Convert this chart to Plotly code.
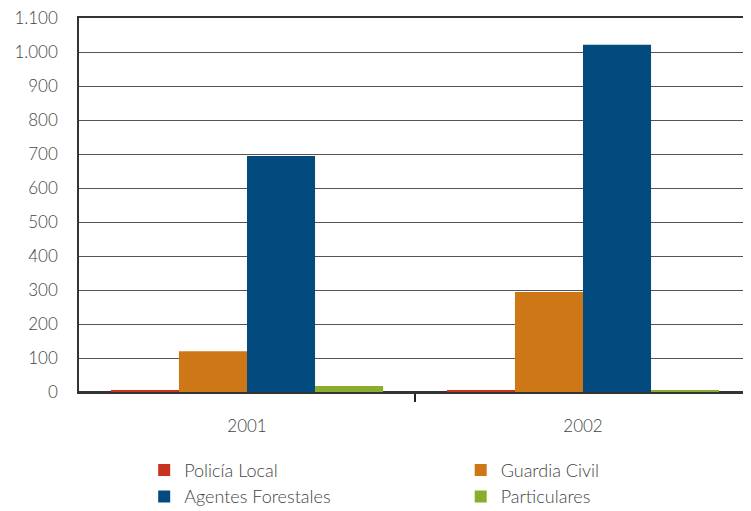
import plotly.graph_objects as go

years = ["2001", "2002"]
series_names = ["Policía Local", "Guardia Civil", "Agentes Forestales", "Particulares"]
policia = [6, 6]
guardia = [120, 294]
agentes = [694, 1021]
particulares = [18, 6]
colors = ["#C8321E", "#CD7716", "#034A7E", "#8AAD2E"]
legend_ids = ["legend", "legend2", "legend", "legend2"]

font_family = "Lato, 'Open Sans', sans-serif"
fig = go.Figure()
for name, vals, c, lg in zip(series_names, [policia, guardia, agentes, particulares], colors, legend_ids):
    fig.add_trace(go.Bar(x=years, y=vals, name=name, legend=lg,
                         marker=dict(color=c, line=dict(width=0))))

leg_common = dict(orientation="v", yanchor="top", y=-0.16, xanchor="left",
                  font=dict(size=18, color="#444", weight=300), traceorder="normal",
                  bgcolor="rgba(0,0,0,0)")
fig.update_layout(
    width=743, height=503,
    margin=dict(l=71, r=0, t=10, b=119, autoexpand=False),
    barmode="group", bargap=0.19, bargroupgap=0,
    plot_bgcolor="white", paper_bgcolor="white",
    separators=",.",
    font=dict(family=font_family, size=17, color="#444", weight=300),
    showlegend=True,
    legend=dict(x=0.097, **leg_common),
    legend2=dict(x=0.568, **leg_common),
)
fig.update_yaxes(range=[0, 1100], tickvals=list(range(0, 1101, 100)), tickformat=",d", showgrid=True,
                 gridcolor="#555", gridwidth=1, showline=True, linecolor="#333", linewidth=1.5,
                 zeroline=True, zerolinecolor="#333", zerolinewidth=1.5,
                 ticklabeloverflow="allow",
                 ticks="", ticklabelstandoff=16, fixedrange=True, automargin=False)
fig.update_xaxes(showline=True, mirror=True, linecolor="#333", linewidth=1.5, ticks="",
                 minor=dict(ticks="outside", tickvals=[0.5], ticklen=8, tickwidth=2,
                            tickcolor="#222", showgrid=False),
                 ticklabelstandoff=18, showgrid=False, automargin=False)
fig.write_html("out.html")
